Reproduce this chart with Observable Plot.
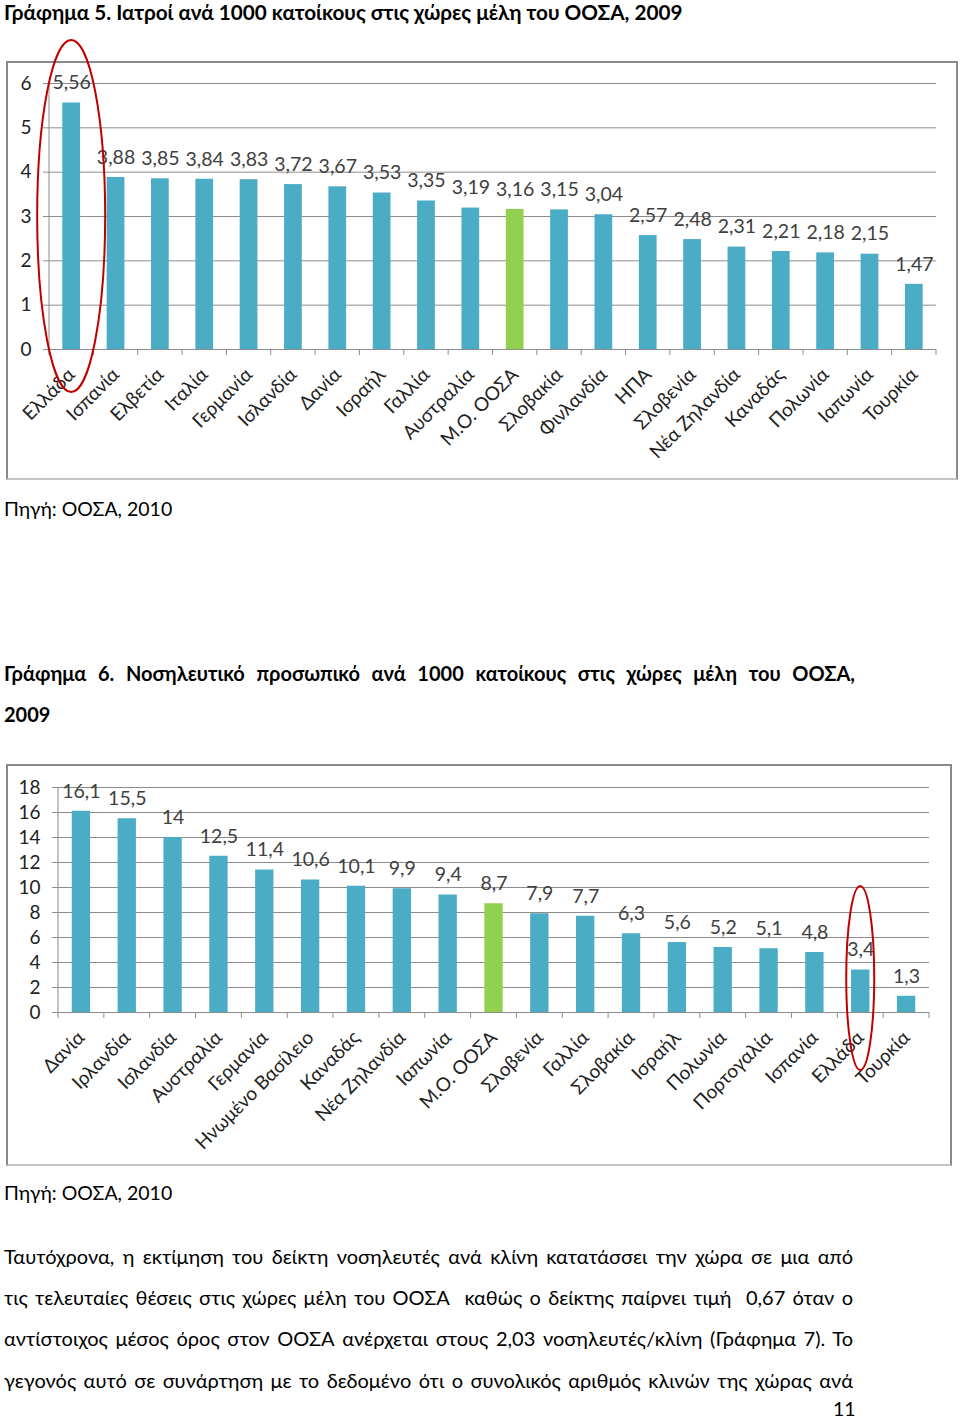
<!DOCTYPE html>
<html>
<head>
<meta charset="utf-8">
<script src="https://cdn.jsdelivr.net/npm/d3@7"></script>
<script src="https://cdn.jsdelivr.net/npm/@observablehq/plot@0.6"></script>
<style>
  body { margin: 0; background: #fff; }
  #page { position: relative; width: 960px; height: 1420px; font-family: Lato, "Open Sans", sans-serif; color: #000; overflow: hidden; }
  .t { position: absolute; white-space: nowrap; line-height: 24px; font-size: 20px; }
  .b { font-weight: bold; }
  .j { text-align: justify; text-align-last: justify; }
  .box { position: absolute; box-sizing: border-box; border: 2px solid #8a8a8a; border-bottom-color: #c4c4c4; background: #fff; }
  .box svg { display: block; overflow: visible; }
</style>
</head>
<body>
<div id="page">
  <div class="t b" style="left:4px;top:0px;font-size:20.7px;">Γράφημα 5. Ιατροί ανά 1000 κατοίκους στις χώρες μέλη του ΟΟΣΑ, 2009</div>
  <div id="box1" class="box" style="left:6px;top:61px;width:952px;height:419px;"></div>
  <div class="t" style="left:4px;top:497px;font-size:19.5px;">Πηγή: ΟΟΣΑ, 2010</div>

  <div class="t b j" style="left:4px;top:661px;width:851px;">Γράφημα 6. Νοσηλευτικό προσωπικό ανά 1000 κατοίκους στις χώρες μέλη του ΟΟΣΑ,</div>
  <div class="t b" style="left:4px;top:702px;">2009</div>
  <div id="box2" class="box" style="left:6px;top:764px;width:946px;height:402px;"></div>
  <div class="t" style="left:4px;top:1181px;font-size:19.5px;">Πηγή: ΟΟΣΑ, 2010</div>

  <div class="t j" style="left:4px;top:1244px;width:849px;">Ταυτόχρονα, η εκτίμηση του δείκτη νοσηλευτές ανά κλίνη κατατάσσει την χώρα σε μια από</div>
  <div class="t j" style="left:4px;top:1285px;width:849px;">τις τελευταίες θέσεις στις χώρες μέλη του ΟΟΣΑ&nbsp; καθώς ο δείκτης παίρνει τιμή&nbsp; 0,67 όταν ο</div>
  <div class="t j" style="left:4px;top:1326px;width:849px;">αντίστοιχος μέσος όρος στον ΟΟΣΑ ανέρχεται στους 2,03 νοσηλευτές/κλίνη (Γράφημα 7). Το</div>
  <div class="t j" style="left:4px;top:1368px;width:849px;">γεγονός αυτό σε συνάρτηση με το δεδομένο ότι ο συνολικός αριθμός κλινών της χώρας ανά</div>
  <div class="t" style="left:833px;top:1401px;line-height:16px;font-size:19.5px;">11</div>
</div>
<script>
// ---- Data: Chart 1 (doctors per 1000 inhabitants, 2009)
const countries1 = ["Ελλάδα", "Ισπανία", "Ελβετία", "Ιταλία", "Γερμανία", "Ισλανδία", "Δανία", "Ισραήλ", "Γαλλία", "Αυστραλία", "Μ.Ο. ΟΟΣΑ", "Σλοβακία", "Φινλανδία", "ΗΠΑ", "Σλοβενία", "Νέα Ζηλανδία", "Καναδάς", "Πολωνία", "Ιαπωνία", "Τουρκία"];
const doctors = [5.56, 3.88, 3.85, 3.84, 3.83, 3.72, 3.67, 3.53, 3.35, 3.19, 3.16, 3.15, 3.04, 2.57, 2.48, 2.31, 2.21, 2.18, 2.15, 1.47];
const yTicks1 = [0, 1, 2, 3, 4, 5, 6];

// ---- Data: Chart 2 (nursing staff per 1000 inhabitants, 2009)
const countries2 = ["Δανία", "Ιρλανδία", "Ισλανδία", "Αυστραλία", "Γερμανία", "Ηνωμένο Βασίλειο", "Καναδάς", "Νέα Ζηλανδία", "Ιαπωνία", "Μ.Ο. ΟΟΣΑ", "Σλοβενία", "Γαλλία", "Σλοβακία", "Ισραήλ", "Πολωνία", "Πορτογαλία", "Ισπανία", "Ελλάδα", "Τουρκία"];
const nurses = [16.1, 15.5, 14, 12.5, 11.4, 10.6, 10.1, 9.9, 9.4, 8.7, 7.9, 7.7, 6.3, 5.6, 5.2, 5.1, 4.8, 3.4, 1.3];
const yTicks2 = [0, 2, 4, 6, 8, 10, 12, 14, 16, 18];

const AVG = "Μ.Ο. ΟΟΣΑ";
const CIRCLED = "Ελλάδα";

const FONT = 'Lato, "Open Sans", sans-serif';
const BLUE = "#4bacc6";
const GREEN = "#92d050";
const GRID = "#8c8c8c";

function drawChart(container, cfg) {
  const data = cfg.cats.map((c, i) => ({country: c, value: cfg.vals[i]}));
  const yMax = cfg.yTicks[cfg.yTicks.length - 1];
  const plot = Plot.plot({
    width: cfg.width,
    height: cfg.height,
    marginLeft: cfg.ml, marginRight: cfg.mr, marginTop: cfg.mt, marginBottom: cfg.mb,
    style: {fontFamily: FONT, background: "transparent", overflow: "visible"},
    x: {domain: cfg.cats, paddingInner: 0.6, paddingOuter: 0.3, round: false, label: null},
    y: {domain: [0, yMax], label: null},
    marks: [
      Plot.gridY(cfg.yTicks, {stroke: GRID, strokeOpacity: 1}),
      Plot.axisY(cfg.yTicks, {tickSize: 6, tickPadding: 12, stroke: GRID, fill: "#222", fontSize: 19, tickFormat: d => String(d), label: null}),
      Plot.barY(data, {filter: d => d.country !== AVG, x: "country", y: "value", fill: BLUE}),
      Plot.barY(data, {filter: d => d.country === AVG, x: "country", y: "value", fill: GREEN}),
      Plot.text(data, {x: "country", y: "value", text: d => String(d.value).replace(".", ","), dy: -20, fontSize: 19.5, fill: "#404040", lineAnchor: "middle"}),
      Plot.axisX({tickRotate: -45, tickSize: 0, tickPadding: 22, fontSize: 19, fill: "#222", label: null})
    ]
  });

  const svg = d3.select(plot);
  const sx = plot.scale("x");
  const sy = plot.scale("y");
  const y0 = sy.apply(0);
  const yTop = sy.apply(yMax);
  const [r0, r1] = sx.range;
  const g = svg.append("g");
  // vertical axis line
  g.append("line").attr("x1", r0).attr("x2", r0).attr("y1", yTop).attr("y2", y0).attr("stroke", GRID);
  // category boundary ticks
  const bounds = [r0].concat(cfg.cats.map(c => sx.apply(c) + sx.bandwidth / 2 + sx.step / 2));
  bounds.forEach(b => g.append("line").attr("x1", b).attr("x2", b).attr("y1", y0).attr("y2", y0 + 6).attr("stroke", GRID));
  // red highlight ellipse
  const cx = sx.apply(CIRCLED) + sx.bandwidth / 2;
  g.append("ellipse").attr("cx", cx).attr("cy", y0 - cfg.ell.up).attr("rx", cfg.ell.rx).attr("ry", cfg.ell.ry)
    .attr("fill", "none").attr("stroke", "#c00000").attr("stroke-width", 2);
  container.appendChild(plot);
}

drawChart(document.getElementById("box1"), {
  cats: countries1, vals: doctors, yTicks: yTicks1,
  width: 948, height: 415, ml: 41, mr: 20, mt: 20, mb: 129,
  ell: {up: 133, rx: 34, ry: 176}
});
drawChart(document.getElementById("box2"), {
  cats: countries2, vals: nurses, yTicks: yTicks2,
  width: 942, height: 398, ml: 50, mr: 21, mt: 21, mb: 152,
  ell: {up: 34, rx: 14, ry: 92}
});
</script>
</body>
</html>
